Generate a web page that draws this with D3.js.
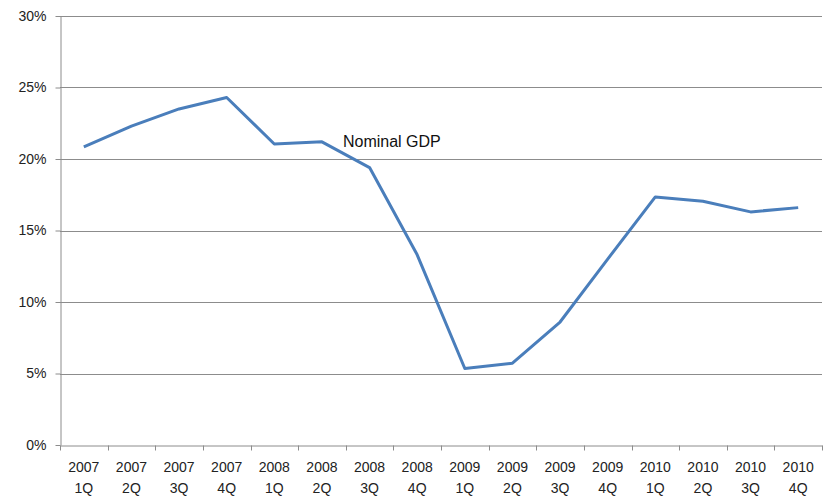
<!DOCTYPE html>
<html><head><meta charset="utf-8">
<script src="https://cdn.jsdelivr.net/npm/d3@7"></script>
<style>body{margin:0;background:#fff}svg{display:block}text{font-family:"Liberation Sans","DejaVu Sans",sans-serif}</style>
</head><body><svg id="c" width="830" height="497"></svg>
<script>
const years = ["2007","2007","2007","2007","2008","2008","2008","2008","2009","2009","2009","2009","2010","2010","2010","2010"];
const quarters = ["1Q","2Q","3Q","4Q","1Q","2Q","3Q","4Q","1Q","2Q","3Q","4Q","1Q","2Q","3Q","4Q"];
const nominalGDP = [20.85, 22.3, 23.5, 24.3, 21.05, 21.2, 19.4, 13.3, 5.35, 5.72, 8.6, 13.0, 17.35, 17.05, 16.3, 16.6];
const yTicks = [0,5,10,15,20,25,30];
const seriesName = "Nominal GDP";

const svg = d3.select("#c");
const m = {l:60, r:8, t:16, b:52};
const W = 830, H = 497;
const cats = years.map((y,i)=>i);
const x = d3.scaleBand().domain(cats).range([m.l, W-m.r]);
const y = d3.scaleLinear().domain([0,30]).range([H-m.b, m.t]);

// gridlines
svg.append("g").selectAll("line").data(yTicks.filter(d=>d>0)).join("line")
  .attr("x1", m.l).attr("x2", W-m.r)
  .attr("y1", d=>Math.round(y(d))+0.5).attr("y2", d=>Math.round(y(d))+0.5)
  .attr("stroke","#8c8c8c").attr("stroke-width",1);

// y axis
const ya = svg.append("g").attr("transform",`translate(${m.l+0.5},0)`)
  .call(d3.axisLeft(y).tickValues(yTicks).tickFormat(d=>d+"%").tickSize(5).tickSizeOuter(0));
ya.select(".domain").attr("stroke","#8c8c8c");
ya.selectAll(".tick line").attr("stroke","#8c8c8c");
ya.selectAll(".tick text").attr("font-size",14).attr("fill","#222").attr("x",-14)
  .attr("font-family","Liberation Sans, sans-serif");

// x axis
const xa = svg.append("g").attr("transform",`translate(0,${Math.round(y(0))+0.5})`)
  .call(d3.axisBottom(x).tickSize(0).tickFormat(""));
xa.select(".domain").attr("stroke","#8c8c8c");
const tickPos = d3.range(cats.length+1).map(i=> i<cats.length ? x(i) : x(cats.length-1)+x.bandwidth());
xa.selectAll("line.bt").data(tickPos).join("line").attr("class","bt")
  .attr("x1",d=>Math.round(d)+0.5).attr("x2",d=>Math.round(d)+0.5).attr("y1",0).attr("y2",5)
  .attr("stroke","#8c8c8c");
const lbl = svg.append("g").selectAll("text").data(cats).join("text")
  .attr("text-anchor","middle").attr("font-size",14).attr("fill","#222")
  .attr("x", d=>x(d)+x.bandwidth()/2);
lbl.append("tspan").attr("x", d=>x(d)+x.bandwidth()/2).attr("y", 472).text(d=>years[d]);
lbl.append("tspan").attr("x", d=>x(d)+x.bandwidth()/2).attr("y", 493).text(d=>quarters[d]);

// line
const line = d3.line().x((d,i)=>x(i)+x.bandwidth()/2).y(d=>y(d));
svg.append("path").datum(nominalGDP).attr("d",line)
  .attr("fill","none").attr("stroke","#4a7ebb").attr("stroke-width",3).attr("stroke-linejoin","round");

// series label
svg.append("text").attr("x", x(5)+x.bandwidth()/2+21).attr("y", y(21.2)+5)
  .attr("font-size",16).attr("fill","#111").text(seriesName);
</script></body></html>
